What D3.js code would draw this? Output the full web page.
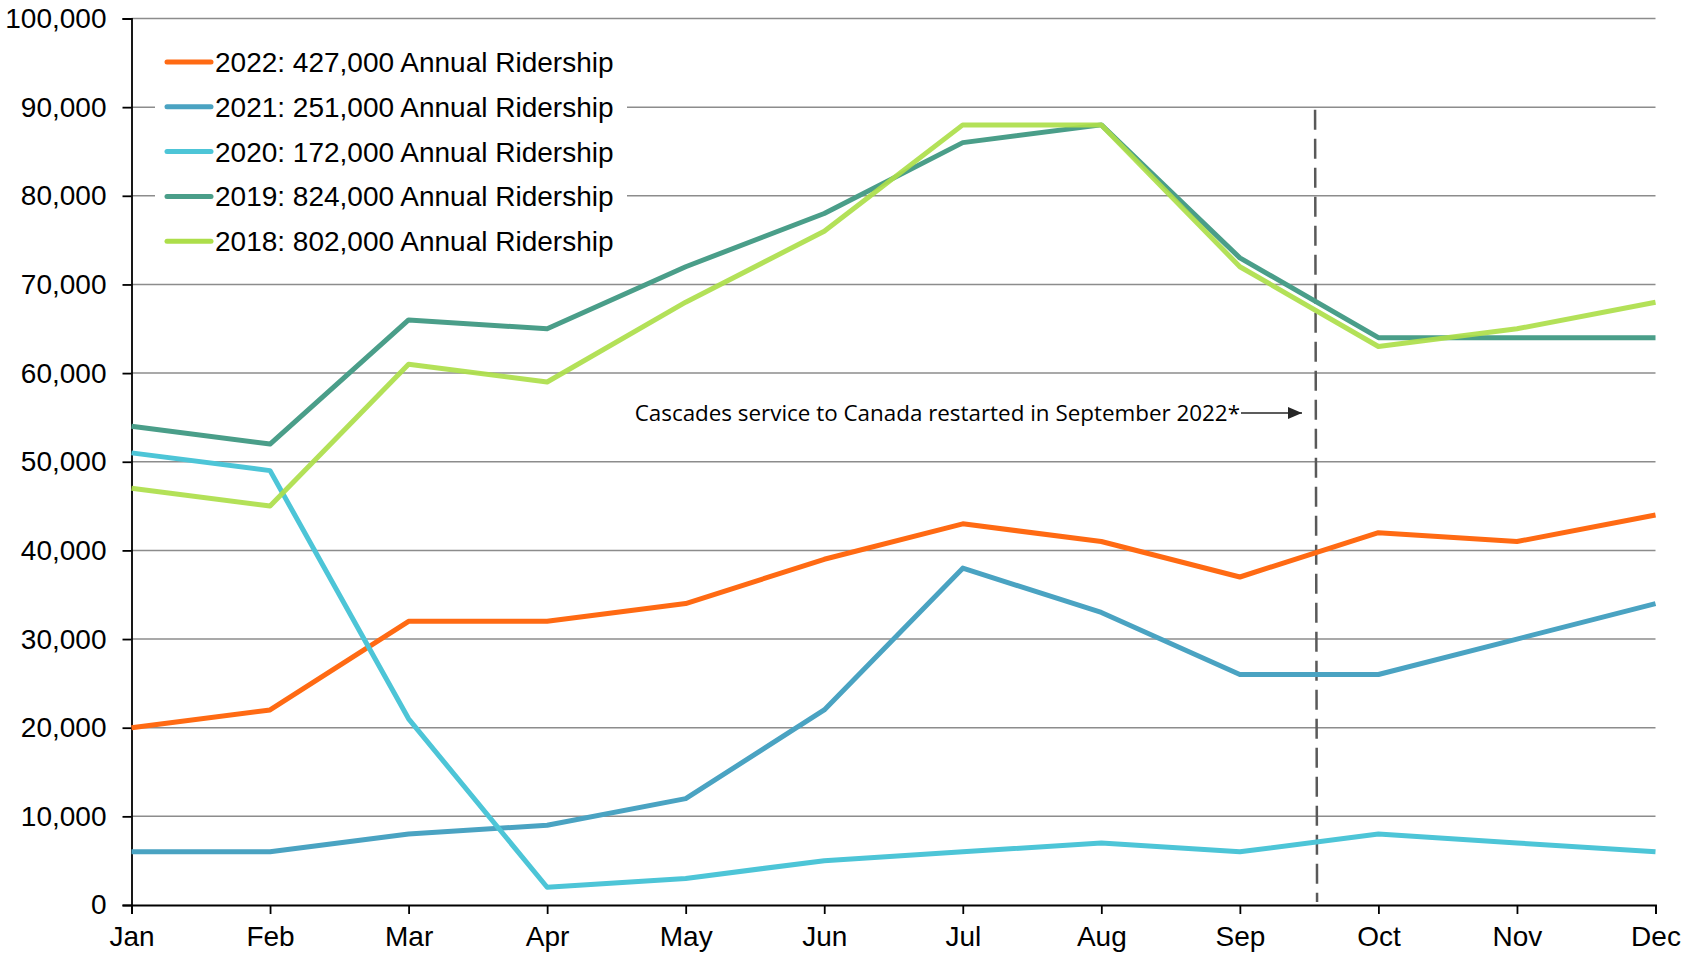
<!DOCTYPE html>
<html><head><meta charset="utf-8">
<script src="https://cdn.jsdelivr.net/npm/d3@7"></script>
<style>body{margin:0;background:#fff}svg{display:block}</style>
</head><body><svg id="c" width="1700" height="954"></svg>
<script>
const months = ["Jan","Feb","Mar","Apr","May","Jun","Jul","Aug","Sep","Oct","Nov","Dec"];
const yTicks = [0,10000,20000,30000,40000,50000,60000,70000,80000,90000,100000];
const s2022 = [20000,22000,32000,32000,34000,39000,43000,41000,37000,42000,41000,44000];
const s2021 = [6000,6000,8000,9000,12000,22000,38000,33000,26000,26000,30000,34000];
const s2020 = [51000,49000,21000,2000,3000,5000,6000,7000,6000,8000,7000,6000];
const s2019 = [54000,52000,66000,65000,72000,78000,86000,88000,73000,64000,64000,64000];
const s2018 = [47000,45000,61000,59000,68000,76000,88000,88000,72000,63000,65000,68000];
const seriesNames = ["2022: 427,000 Annual Ridership","2021: 251,000 Annual Ridership","2020: 172,000 Annual Ridership","2019: 824,000 Annual Ridership","2018: 802,000 Annual Ridership"];
const seriesColors = ["#FF6A13","#4AA3C2","#4DC5D7","#4A9E89","#ADDE4A"];
const annotation = "Cascades service to Canada restarted in September 2022*";
const markerPos = 8.55; // between Sep and Oct (month index)

const series = [s2022,s2021,s2020,s2019,s2018];
const svg = d3.select("#c");
const L = 131.5, R = 1655.5, T = 18.5, B = 905;
const x = d3.scalePoint().domain(months).range([L,R]);
const xi = d3.scaleLinear().domain([0,11]).range([L,R]);
const y = d3.scaleLinear().domain([0,100000]).range([B,T]);
const font = "'Liberation Sans', Arial, sans-serif";

// gridlines
svg.append("g").selectAll("line").data(yTicks.filter(d=>d>0)).join("line")
  .attr("x1",L).attr("x2",R).attr("y1",d=>y(d)).attr("y2",d=>y(d))
  .attr("stroke","#8c8c8c").attr("stroke-width",1.5);

// y axis
const ya = svg.append("g").attr("transform",`translate(${L},0)`)
  .call(d3.axisLeft(y).tickValues(yTicks).tickSize(9).tickPadding(16).tickFormat(d3.format(",")));
ya.select(".domain").attr("stroke","#000").attr("stroke-width",1.8);
ya.selectAll(".tick line").attr("stroke","#000").attr("stroke-width",1.8);
ya.selectAll("text").attr("font-family",font).attr("font-size",28).attr("fill","#000");

// x axis
const xa = svg.append("g").attr("transform",`translate(0,${B})`)
  .call(d3.axisBottom(x).tickSize(9).tickPadding(12));
xa.select(".domain").attr("stroke","#000").attr("stroke-width",1.8);
xa.selectAll(".tick line").attr("stroke","#000").attr("stroke-width",1.8);
xa.selectAll("text").attr("font-family",font).attr("font-size",28).attr("fill","#000");

// dashed marker
svg.append("line").attr("x1",xi(markerPos)-1).attr("x2",xi(markerPos)+1)
  .attr("y1",y(89700)).attr("y2",B-3)
  .attr("stroke","#595959").attr("stroke-width",2.5).attr("stroke-dasharray","20,9");

// lines
const line = d3.line().x((d,i)=>x(months[i])).y(d=>y(d));
const order = [0,1,2,3,4];
svg.append("g").selectAll("path").data(order).join("path")
  .attr("d",i=>line(series[i])).attr("fill","none")
  .attr("stroke",i=>seriesColors[i]).attr("stroke-width",5)
  .attr("stroke-linejoin","round").attr("opacity",i=>i===4?0.92:1);

// legend box
svg.append("rect").attr("x",155).attr("y",38).attr("width",472).attr("height",226).attr("fill","#fff");
const lg = svg.append("g").selectAll("g").data(seriesNames).join("g")
  .attr("transform",(d,i)=>`translate(0,${62+i*44.8})`);
lg.append("line").attr("x1",167).attr("x2",211).attr("y1",0).attr("y2",0)
  .attr("stroke",(d,i)=>seriesColors[i]).attr("stroke-width",5).attr("stroke-linecap","round");
lg.append("text").attr("x",215).attr("y",0).attr("dy","0.36em")
  .attr("font-family",font).attr("font-size",28).attr("fill","#000").text(d=>d);

// annotation
const ay = 413;
svg.append("defs").append("marker").attr("id","ah").attr("viewBox","0 0 10 10")
  .attr("refX",10).attr("refY",5).attr("markerWidth",14).attr("markerHeight",12)
  .attr("markerUnits","userSpaceOnUse").attr("orient","auto").attr("preserveAspectRatio","none")
  .append("path").attr("d","M0,0L10,5L0,10Z").attr("fill","#262626");
svg.append("line").attr("x1",1241).attr("x2",1302).attr("y1",ay).attr("y2",ay)
  .attr("stroke","#262626").attr("stroke-width",1.5).attr("marker-end","url(#ah)");
svg.append("text").attr("x",1240).attr("y",ay).attr("dy","0.35em").attr("text-anchor","end")
  .attr("font-family","'Open Sans', 'Noto Sans', sans-serif").attr("font-size",22.4)
  .attr("fill","#000").text(annotation);
</script></body></html>
